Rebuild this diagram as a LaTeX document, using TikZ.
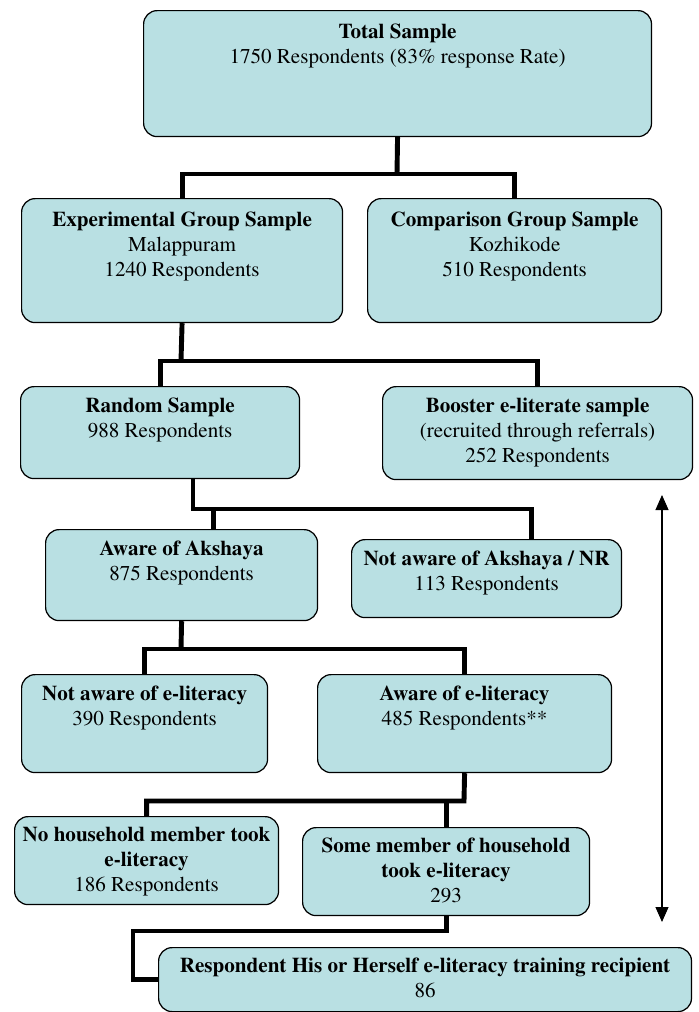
\documentclass[tikz,border=0pt]{standalone}
\usepackage[T1]{fontenc}
\usepackage{mathptmx}
\usetikzlibrary{positioning,arrows.meta}
\definecolor{boxfill}{RGB}{185,224,227}

\begin{document}
\begin{tikzpicture}[x=0.02cm,y=-0.02cm,
	box/.style={draw,line width=0.7pt,fill=boxfill,rounded corners=0.27cm,anchor=north west,inner sep=0pt},
	txt/.style={align=center,inner sep=0pt,font=\fontsize{12}{14}\selectfont},
	conn/.style={line width=2.8pt},
	>={Triangle[length=0.3cm,width=0.26cm]}]
	\useasboundingbox (0,0) rectangle (699,1012);
	%
	\node[box,minimum width=10.16cm,minimum height=2.52cm] (total) at (143,10) {};
	\node[box,minimum width=6.42cm,minimum height=2.48cm] (exper) at (21,198) {};
	\node[box,minimum width=5.88cm,minimum height=2.48cm] (compar) at (367,198) {};
	\node[box,minimum width=5.58cm,minimum height=1.84cm] (rand) at (20,386) {};
	\node[box,minimum width=6.2cm,minimum height=1.86cm] (boost) at (382,386) {};
	\node[box,minimum width=5.44cm,minimum height=1.82cm] (awak) at (45,529) {};
	\node[box,minimum width=5.4cm,minimum height=1.56cm] (nawak) at (351,539) {};
	\node[box,minimum width=4.92cm,minimum height=1.96cm] (nawel) at (21,674) {};
	\node[box,minimum width=5.88cm,minimum height=1.96cm] (awel) at (317,674) {};
	\node[box,minimum width=5.28cm,minimum height=1.76cm] (nohh) at (14,816) {};
	\node[box,minimum width=5.74cm,minimum height=1.76cm] (somem) at (302,827) {};
	\node[box,minimum width=10.66cm,minimum height=1.28cm] (recip) at (158,947) {};
	%
	\node[txt,below=0.28cm of total.north] (total-t) {\textbf{Total Sample}\\1750 Respondents (83\% response Rate)};
	\node[txt,below=0.28cm of exper.north] (exper-t) {\textbf{Experimental Group Sample}\\Malappuram\\1240 Respondents};
	\node[txt,below=0.28cm of compar.north] (compar-t) {\textbf{Comparison Group Sample}\\Kozhikode\\510 Respondents};
	\node[txt,below=0.24cm of rand.north] (rand-t) {\textbf{Random Sample}\\988 Respondents};
	\node[txt,below=0.24cm of boost.north] (boost-t) {\textbf{Booster e-literate sample}\\(recruited through referrals)\\252 Respondents};
	\node[txt,below=0.24cm of awak.north] (awak-t) {\textbf{Aware of Akshaya}\\875 Respondents};
	\node[txt,below=0.24cm of nawak.north] (nawak-t) {\textbf{Not aware of Akshaya / NR}\\113 Respondents};
	\node[txt,below=0.24cm of nawel.north] (nawel-t) {\textbf{Not aware of e-literacy}\\390 Respondents};
	\node[txt,below=0.24cm of awel.north] (awel-t) {\textbf{Aware of e-literacy}\\485 Respondents**};
	\node[txt,below=0.22cm of nohh.north] (nohh-t) {\textbf{No household member took}\\\textbf{e-literacy}\\186 Respondents};
	\node[txt,below=0.22cm of somem.north] (somem-t) {\textbf{Some member of household}\\\textbf{took e-literacy}\\293};
	\node[txt,below=0.22cm of recip.north] (recip-t) {\textbf{Respondent His or Herself e-literacy training recipient}\\86};
	%
	\coordinate (j1) at (397,174);
	\draw[conn] (total.south) -- (j1);
	\draw[conn] (exper.north) |- (j1) -| (compar.north);
	\coordinate (j2) at (181,361);
	\draw[conn] (exper.south) -- (j2);
	\draw[conn] (rand.north) |- (j2) -| (boost.north);
	\coordinate (j3) at (193,509);
	\draw[conn] (rand.south -| j3) -- (j3) -| ([xshift=0.9cm]nawak.north);
	\draw[conn] ([xshift=0.64cm]awak.north) |- (j3);
	\coordinate (j4) at (181,649);
	\draw[conn] (awak.south) -- (j4);
	\draw[conn] (nawel.north) |- (j4) -| (awel.north);
	\coordinate (j5) at (464,801);
	\draw[conn] (awel.south) -- (j5) -| (nohh.north);
	\draw[conn] (somem.north) |- (j5);
	\coordinate (j6) at (133,931);
	\draw[conn] (somem.south) |- (j6) |- (recip.west);
	%
	\coordinate (up) at (662,495);
	\coordinate (down) at (662,922);
	\draw[line width=0.6pt,<->] (up) -- (down);
\end{tikzpicture}
\end{document}
